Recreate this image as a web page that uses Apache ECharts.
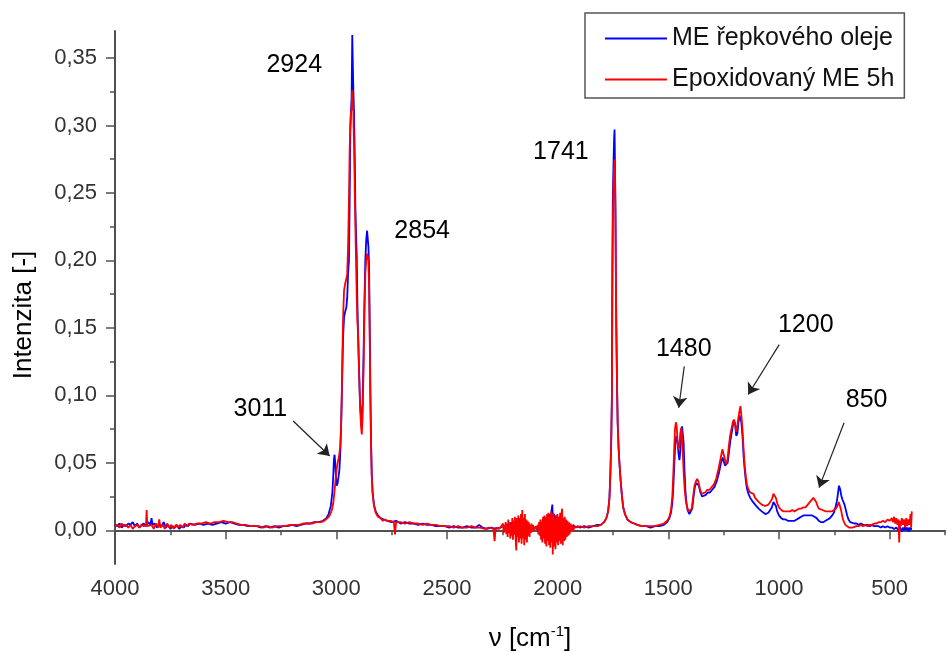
<!DOCTYPE html>
<html>
<head>
<meta charset="utf-8">
<script src="https://cdn.jsdelivr.net/npm/echarts@6/dist/echarts.min.js"></script>
<style>html,body{margin:0;padding:0;background:#fff}#chart{width:948px;height:652px}</style>
</head>
<body>
<div id="chart"></div>
<script>
// ---------- data (wavenumber [cm-1], intensity [-]) ----------
const seriesNames = ['ME řepkového oleje', 'Epoxidovaný ME 5h'];

const meData = [
[4000,0.004],[3990,0.003],[3980,0.005],[3970,0.002],[3960,0.004],[3950,0.003],[3940,0.005],[3930,0.004],[3920,0.006],[3910,0.003],
[3900,0.005],[3890,0.002],[3880,0.004],[3870,0.005],[3860,0.003],[3850,0.006],[3840,0.004],[3835,0.009],[3830,0.004],[3820,0.005],
[3810,0.002],[3800,0.004],[3790,0.003],[3780,0.006],[3770,0.002],[3760,0.004],[3750,0.001],[3740,0.003],[3730,0.002],[3720,0.004],
[3710,0.001],[3700,0.003],[3690,0.002],[3680,0.004],[3670,0.003],[3660,0.005],[3640,0.004],[3620,0.005],[3600,0.004],[3580,0.005],
[3560,0.004],[3540,0.005],[3520,0.006],[3500,0.005],[3480,0.006],[3460,0.005],[3440,0.004],[3420,0.004],[3400,0.003],[3380,0.003],
[3360,0.003],[3340,0.002],[3320,0.003],[3300,0.002],[3280,0.003],[3260,0.002],[3240,0.003],[3220,0.003],[3200,0.004],[3180,0.003],
[3160,0.004],[3140,0.005],[3120,0.005],[3100,0.006],[3080,0.006],[3060,0.007],[3045,0.009],[3035,0.012],[3025,0.018],[3018,0.028],
[3014,0.04],[3011,0.052],[3008,0.056],[3005,0.05],[3002,0.04],[2998,0.033],[2994,0.035],[2990,0.04],[2986,0.045],[2982,0.058],
[2978,0.08],[2975,0.1],[2972,0.125],[2969,0.145],[2965,0.158],[2960,0.162],[2955,0.165],[2951,0.172],[2947,0.19],[2943,0.2],
[2940,0.24],[2937,0.295],[2934,0.31],[2931,0.32],[2928,0.367],[2926,0.35],[2923,0.325],[2920,0.31],[2917,0.28],[2914,0.24],
[2911,0.22],[2908,0.205],[2905,0.17],[2901,0.14],[2897,0.115],[2893,0.095],[2889,0.085],[2885,0.082],[2881,0.095],[2877,0.13],
[2873,0.17],[2869,0.2],[2865,0.215],[2861,0.222],[2858,0.223],[2855,0.21],[2852,0.195],[2849,0.15],[2846,0.1],[2843,0.065],
[2840,0.042],[2836,0.028],[2830,0.019],[2822,0.014],[2812,0.011],[2800,0.009],[2785,0.008],[2770,0.007],[2750,0.006],[2730,0.007],
[2710,0.005],[2690,0.006],[2670,0.005],[2650,0.005],[2630,0.004],[2610,0.005],[2590,0.004],[2570,0.004],[2550,0.003],[2530,0.003],
[2510,0.003],[2490,0.002],[2470,0.003],[2450,0.002],[2430,0.002],[2410,0.003],[2390,0.002],[2370,0.002],[2355,0.004],[2340,0.002],
[2320,0.001],[2300,0.002],[2280,0.001],[2260,0.002],[2245,0.003],
[2235,0.001],[2230,0.004],[2225,-0.001],[2220,0.005],[2215,0.0],[2210,0.006],[2205,-0.002],[2200,0.007],[2195,-0.003],[2190,0.006],
[2185,-0.004],[2180,0.008],[2175,-0.003],[2170,0.009],[2165,-0.004],[2160,0.01],[2155,-0.002],[2150,0.008],[2145,-0.003],[2140,0.006],
[2135,-0.001],[2130,0.004],[2125,0.0],[2120,0.003],[2115,0.001],[2110,0.002],[2100,0.002],[2092,0.003],
[2088,0.0],[2084,0.005],[2080,-0.003],[2076,0.006],[2072,-0.004],[2068,0.008],[2064,-0.005],[2060,0.009],[2056,-0.006],[2052,0.01],
[2048,-0.005],[2044,0.011],[2040,-0.007],[2036,0.012],[2032,-0.006],[2028,0.014],[2024,0.019],[2020,-0.008],[2016,0.012],[2012,-0.006],
[2008,0.011],[2004,-0.005],[2000,0.009],[1996,-0.006],[1992,0.01],[1988,-0.004],[1984,0.008],[1980,-0.005],[1976,0.009],[1972,-0.003],
[1968,0.007],[1964,-0.002],[1960,0.006],[1955,-0.002],[1950,0.005],[1945,0.0],[1940,0.004],[1935,0.001],[1930,0.004],[1920,0.002],
[1910,0.003],[1900,0.002],[1880,0.003],[1860,0.002],[1840,0.003],[1820,0.004],[1805,0.004],
[1790,0.006],[1780,0.009],[1772,0.014],[1766,0.024],[1762,0.042],[1758,0.068],[1755,0.1],[1753,0.19],[1751,0.243],[1748,0.27],
[1745,0.29],[1743,0.297],[1741,0.27],[1739,0.24],[1737,0.188],[1735,0.15],[1732,0.11],[1729,0.08],[1725,0.062],[1721,0.05],
[1716,0.038],[1710,0.026],[1704,0.017],[1696,0.012],[1685,0.008],[1670,0.006],[1655,0.005],[1640,0.004],[1620,0.003],[1600,0.003],
[1580,0.002],[1560,0.003],[1540,0.003],[1520,0.004],[1505,0.006],[1495,0.009],[1488,0.013],[1482,0.02],
[1478,0.03],[1474,0.045],[1470,0.06],[1466,0.068],[1462,0.07],[1458,0.065],[1454,0.057],[1450,0.052],[1446,0.058],[1442,0.07],
[1438,0.077],[1435,0.078],[1431,0.065],[1427,0.045],[1423,0.03],[1418,0.02],[1413,0.015],[1405,0.012],[1398,0.012],[1392,0.016],
[1386,0.025],[1380,0.032],[1374,0.035],[1368,0.036],[1362,0.033],[1355,0.028],[1348,0.025],[1340,0.024],[1332,0.026],[1322,0.028],
[1312,0.028],[1302,0.03],[1292,0.032],[1282,0.036],[1272,0.042],[1262,0.05],[1255,0.054],[1250,0.053],[1244,0.048],[1238,0.047],
[1232,0.05],[1226,0.058],[1220,0.066],[1214,0.072],[1208,0.078],[1203,0.08],[1198,0.078],[1193,0.07],[1188,0.072],[1183,0.08],
[1178,0.085],[1174,0.086],[1170,0.08],[1165,0.07],[1160,0.055],[1155,0.045],[1150,0.037],[1145,0.031],[1138,0.027],[1130,0.024],
[1122,0.022],[1115,0.022],[1108,0.019],[1100,0.019],[1092,0.016],[1085,0.016],[1078,0.014],[1070,0.013],[1062,0.012],[1055,0.012],
[1048,0.013],[1040,0.014],[1032,0.017],[1025,0.021],[1020,0.021],[1014,0.018],[1008,0.014],[1000,0.011],[990,0.009],[980,0.008],
[970,0.008],[960,0.007],[950,0.007],[940,0.007],[930,0.007],[920,0.008],[910,0.009],[900,0.01],[890,0.011],[880,0.011],
[870,0.011],[860,0.011],[850,0.011],[840,0.01],[830,0.009],[820,0.007],[810,0.006],[800,0.006],[790,0.007],[780,0.008],
[770,0.009],[760,0.011],[752,0.013],[745,0.017],[738,0.022],[733,0.028],[729,0.033],[726,0.034],[723,0.03],[719,0.026],
[714,0.023],[709,0.021],[704,0.019],[698,0.015],[692,0.011],[686,0.008],[678,0.006],[670,0.006],[660,0.005],[650,0.005],
[640,0.004],[630,0.005],[620,0.004],[610,0.004],[600,0.004],[590,0.003],[580,0.004],[570,0.003],[560,0.003],[550,0.003],
[540,0.002],[530,0.003],[520,0.002],[510,0.003],[500,0.002],[490,0.002],[480,0.001],[470,0.002],[460,0.0],[455,0.003],
[450,0.001],[445,-0.001],[440,0.002],[435,0.0],[430,0.003],[425,0.0],[420,0.002],[415,-0.001],[410,0.002],[405,0.0],[402,0.002]
];

const epoxData = [
[4000,0.003],[3990,0.004],[3980,0.002],[3970,0.005],[3960,0.003],[3950,0.004],[3940,0.002],[3930,0.004],[3920,0.001],[3910,0.003],
[3900,0.004],[3890,0.002],[3880,0.004],[3870,0.003],[3860,0.004],[3857,0.015],[3854,0.003],[3845,0.002],[3835,0.004],[3825,0.001],
[3815,0.005],[3805,0.002],[3800,0.008],[3795,0.002],[3785,0.004],[3775,0.001],[3765,0.005],[3755,0.002],[3745,0.004],[3735,0.001],
[3725,0.004],[3715,0.002],[3705,0.004],[3695,0.002],[3685,0.005],[3675,0.003],[3665,0.005],[3650,0.004],[3630,0.005],[3610,0.005],
[3590,0.006],[3570,0.005],[3550,0.006],[3530,0.006],[3510,0.007],[3490,0.006],[3470,0.006],[3450,0.005],[3430,0.004],[3410,0.004],
[3390,0.003],[3370,0.003],[3350,0.003],[3330,0.002],[3310,0.003],[3290,0.002],[3270,0.003],[3250,0.003],[3230,0.003],[3210,0.004],
[3190,0.004],[3170,0.004],[3150,0.005],[3130,0.005],[3110,0.005],[3090,0.006],[3070,0.006],[3055,0.007],[3040,0.009],[3030,0.011],
[3020,0.015],[3014,0.02],[3010,0.026],[3006,0.033],[3002,0.04],[2998,0.046],[2994,0.05],[2990,0.053],[2986,0.057],[2982,0.063],
[2978,0.08],[2975,0.105],[2972,0.135],[2969,0.16],[2965,0.178],[2960,0.183],[2955,0.186],[2951,0.19],[2947,0.21],[2943,0.245],
[2940,0.28],[2937,0.3],[2934,0.31],[2931,0.312],[2928,0.326],[2926,0.32],[2923,0.31],[2920,0.285],[2917,0.255],[2914,0.225],
[2911,0.2],[2908,0.175],[2905,0.155],[2901,0.143],[2897,0.118],[2893,0.093],[2889,0.078],[2885,0.071],[2881,0.085],[2877,0.12],
[2873,0.16],[2869,0.19],[2865,0.2],[2861,0.205],[2858,0.206],[2855,0.2],[2852,0.18],[2849,0.14],[2846,0.095],[2843,0.062],
[2840,0.04],[2836,0.027],[2830,0.018],[2822,0.013],[2812,0.01],[2800,0.009],[2790,0.007],[2780,0.008],[2770,0.007],[2755,0.007],
[2740,0.006],[2735,-0.003],[2730,0.006],[2710,0.006],[2690,0.005],[2670,0.006],[2650,0.005],[2630,0.005],[2610,0.004],[2590,0.005],
[2570,0.004],[2550,0.004],[2530,0.003],[2510,0.003],[2490,0.003],[2470,0.002],[2450,0.003],[2430,0.002],[2410,0.002],[2390,0.003],
[2370,0.002],[2350,0.002],[2330,0.001],[2310,0.002],[2290,0.001],[2285,-0.008],[2280,0.002],[2265,0.001],[2254,0.003],
[2250,0.002],[2247,0.005],[2244,-0.002],[2241,0.004],[2238,-0.001],[2235,0.006],[2232,-0.003],[2229,0.005],[2226,-0.005],[2223,0.008],
[2220,-0.002],[2217,0.006],[2214,-0.006],[2211,0.004],[2208,-0.004],[2205,0.009],[2202,-0.007],[2199,0.007],[2196,-0.003],[2193,0.01],
[2190,-0.006],[2187,-0.015],[2184,0.009],[2181,-0.005],[2178,0.011],[2175,-0.009],[2172,0.006],[2169,-0.006],[2166,0.012],[2163,-0.01],
[2160,0.015],[2157,-0.006],[2154,0.009],[2151,-0.011],[2148,0.012],[2145,-0.007],[2142,0.008],[2139,-0.009],[2136,0.007],[2133,-0.004],
[2130,0.006],[2127,-0.005],[2124,0.004],[2121,-0.002],[2118,0.005],[2115,-0.001],[2112,0.004],[2106,0.0],[2100,0.003],[2094,0.001],
[2090,0.004],[2087,-0.003],[2084,0.006],[2081,-0.004],[2078,0.008],[2075,-0.007],[2072,0.005],[2069,-0.009],[2066,0.01],[2063,-0.006],
[2060,0.011],[2057,-0.01],[2054,0.008],[2051,-0.012],[2048,0.012],[2045,-0.008],[2042,0.013],[2039,-0.011],[2036,0.01],[2033,-0.013],
[2030,0.014],[2027,-0.009],[2024,0.012],[2022,-0.018],[2019,0.013],[2016,-0.012],[2013,0.009],[2010,-0.014],[2007,0.011],[2004,-0.009],
[2001,0.012],[1998,-0.011],[1995,0.01],[1992,-0.008],[1989,0.013],[1986,-0.01],[1983,0.011],[1980,0.016],[1977,-0.011],[1974,0.009],
[1971,-0.008],[1968,0.01],[1965,-0.007],[1962,0.008],[1959,-0.005],[1956,0.007],[1953,-0.004],[1950,0.006],[1946,-0.003],[1942,0.005],
[1938,-0.001],[1934,0.004],[1930,0.0],[1922,0.003],[1912,0.002],[1900,0.003],[1880,0.002],[1860,0.003],[1840,0.003],[1820,0.003],[1805,0.004],
[1790,0.006],[1780,0.009],[1772,0.014],[1766,0.024],[1762,0.04],[1758,0.065],[1755,0.095],[1753,0.17],[1751,0.22],[1748,0.255],
[1745,0.268],[1743,0.275],[1741,0.265],[1739,0.235],[1737,0.19],[1735,0.15],[1732,0.11],[1729,0.08],[1725,0.062],[1721,0.05],
[1716,0.038],[1710,0.026],[1704,0.017],[1696,0.012],[1685,0.008],[1670,0.006],[1655,0.005],[1640,0.004],[1620,0.003],[1600,0.003],
[1580,0.003],[1560,0.003],[1540,0.004],[1520,0.005],[1505,0.007],[1495,0.01],[1488,0.015],[1482,0.025],
[1478,0.04],[1474,0.058],[1470,0.075],[1466,0.08],[1462,0.077],[1458,0.065],[1454,0.06],[1450,0.062],[1446,0.072],[1442,0.076],
[1438,0.07],[1434,0.055],[1430,0.04],[1426,0.03],[1421,0.022],[1415,0.017],[1408,0.014],[1400,0.013],[1394,0.016],[1388,0.025],
[1382,0.033],[1376,0.036],[1370,0.038],[1364,0.036],[1358,0.031],[1350,0.027],[1342,0.026],[1334,0.028],[1324,0.03],[1314,0.03],
[1304,0.032],[1294,0.034],[1284,0.038],[1274,0.045],[1264,0.053],[1256,0.06],[1251,0.06],[1245,0.053],[1239,0.049],[1233,0.052],
[1227,0.062],[1221,0.07],[1215,0.075],[1209,0.08],[1204,0.082],[1199,0.08],[1194,0.073],[1189,0.076],[1184,0.083],[1179,0.088],
[1174,0.092],[1170,0.085],[1165,0.075],[1160,0.06],[1155,0.048],[1150,0.04],[1145,0.034],[1138,0.03],[1130,0.028],[1122,0.029],
[1115,0.027],[1108,0.024],[1100,0.023],[1092,0.021],[1085,0.02],[1078,0.019],[1070,0.018],[1062,0.018],[1055,0.018],[1048,0.019],
[1040,0.02],[1032,0.023],[1025,0.027],[1020,0.027],[1014,0.024],[1008,0.02],[1000,0.017],[990,0.015],[980,0.014],[970,0.014],
[960,0.014],[950,0.014],[940,0.015],[930,0.014],[920,0.015],[910,0.016],[900,0.016],[890,0.017],[880,0.017],[870,0.019],
[860,0.021],[852,0.022],[845,0.024],[838,0.024],[832,0.021],[826,0.018],[820,0.016],[812,0.015],[804,0.015],[796,0.014],
[788,0.014],[780,0.014],[770,0.014],[760,0.014],[752,0.015],[744,0.016],[736,0.018],[730,0.021],[726,0.02],[721,0.016],
[716,0.012],[711,0.008],[706,0.006],[700,0.004],[692,0.003],[684,0.002],[676,0.003],[668,0.002],[660,0.003],[650,0.003],
[640,0.003],[630,0.004],[620,0.003],[610,0.004],[600,0.003],[590,0.004],[580,0.004],[570,0.005],[560,0.005],[550,0.006],
[540,0.006],[530,0.007],[520,0.006],[510,0.008],[500,0.007],[490,0.009],[485,0.006],[480,0.01],[475,0.005],[470,0.009],
[465,0.004],[460,0.008],[457,-0.009],[454,0.007],[450,0.003],[445,0.009],[440,0.004],[435,0.008],[430,0.002],[425,0.009],
[420,0.003],[415,0.008],[410,0.004],[406,0.012],[403,0.002],[400,0.014]
];

// ---------- axes / ticks ----------
const xRange = [250, 4000];
const xTickLabels = [4000, 3500, 3000, 2500, 2000, 1500, 1000, 500];
const xMinorTicks = [3750, 3250, 2750, 2250, 1750, 1250, 750, 250];
const yRange = [-0.025, 0.37];
const yTickLabels = [0, 0.05, 0.10, 0.15, 0.20, 0.25, 0.30, 0.35];
const yMinorTicks = [0.025, 0.075, 0.125, 0.175, 0.225, 0.275, 0.325];

// ---------- annotations ----------
const annotationTexts = ['2924', '2854', '1741', '3011', '1480', '1200', '850'];
const annotationX = [3188, 2610, 1983, 3341, 1428, 877, 602];
const annotationY = [0.344, 0.221, 0.280, 0.0895, 0.134, 0.152, 0.096];
const arrowStarts = [[3195, 0.081], [1428, 0.1215], [999, 0.1376], [706, 0.0797]];
const arrowEnds = [[3030, 0.055], [1453, 0.0908], [1139, 0.1006], [819, 0.0316]];

const FONT = '"Liberation Sans", Arial, sans-serif';
const AXIS_COLOR = '#505050';

const chart = echarts.init(document.getElementById('chart'), null, {renderer: 'canvas'});

const annotationData = annotationTexts.map((t, i) => ({value: [annotationX[i], annotationY[i]], name: t}));
const arrowData = arrowStarts.map((s, i) => [{coord: s}, {coord: arrowEnds[i]}]);

const commonX = {
  type: 'value', min: xRange[0], max: xRange[1], inverse: true,
  splitLine: {show: false}, gridIndex: 0
};
const commonY = {
  type: 'value', min: yRange[0], max: yRange[1],
  splitLine: {show: false}, gridIndex: 0
};

chart.setOption({
  animation: false,
  backgroundColor: '#ffffff',
  grid: {left: 115, right: 3, top: 31, bottom: 88, containLabel: false, outerBoundsMode: 'none'},
  legend: {
    data: seriesNames,
    orient: 'vertical',
    left: 585, top: 13,
    padding: [12, 10, 5, 20],
    icon: 'rect',
    itemWidth: 62, itemHeight: 2, itemGap: 14,
    borderColor: '#555', borderWidth: 1.5,
    textStyle: {fontFamily: FONT, fontSize: 25, color: '#111', lineHeight: 27},
    selectedMode: false
  },
  xAxis: [
    Object.assign({}, commonX, {
      position: 'bottom',
      axisLine: {show: true, lineStyle: {color: AXIS_COLOR, width: 2}},
      axisTick: {show: true, customValues: xTickLabels, length: 9, lineStyle: {color: AXIS_COLOR, width: 1.5}},
      axisLabel: {show: true, customValues: xTickLabels, margin: 14, color: '#333', fontFamily: FONT, fontSize: 22,
                  formatter: v => String(v)},
      name: '{a|ν [cm}{s|-1}{a|]}',
      nameLocation: 'middle', nameGap: 60,
      nameTextStyle: {
        rich: {
          a: {fontFamily: FONT, fontSize: 26, color: '#000', lineHeight: 30},
          s: {fontFamily: FONT, fontSize: 15, color: '#000', lineHeight: 16, verticalAlign: 'top'}
        }
      }
    }),
    Object.assign({}, commonX, {
      position: 'bottom',
      axisLine: {show: false},
      axisTick: {show: true, customValues: xMinorTicks, length: 5, lineStyle: {color: AXIS_COLOR, width: 1.5}},
      axisLabel: {show: false}
    })
  ],
  yAxis: [
    Object.assign({}, commonY, {
      position: 'left',
      axisLine: {show: true, lineStyle: {color: AXIS_COLOR, width: 2}},
      axisTick: {show: true, customValues: yTickLabels, length: 9, lineStyle: {color: AXIS_COLOR, width: 1.5}},
      axisLabel: {show: true, customValues: yTickLabels, margin: 18, color: '#333', fontFamily: FONT, fontSize: 22,
                  formatter: v => v.toFixed(2).replace('.', ',')}
    }),
    Object.assign({}, commonY, {
      position: 'left',
      axisLine: {show: false},
      axisTick: {show: true, customValues: yMinorTicks, length: 5, lineStyle: {color: AXIS_COLOR, width: 1.5}},
      axisLabel: {show: false}
    })
  ],
  graphic: [{
    type: 'text',
    x: 24, y: 315, rotation: Math.PI / 2,
    style: {text: 'Intenzita [-]', fontFamily: FONT, fontSize: 26, fill: '#000', align: 'center', verticalAlign: 'middle'}
  }],
  series: [
    {
      name: seriesNames[0], type: 'line', xAxisIndex: 0, yAxisIndex: 0,
      data: meData, symbol: 'none', showSymbol: false,
      lineStyle: {color: '#0000ff', width: 1.8}, itemStyle: {color: '#0000ff'},
      z: 2, silent: true
    },
    {
      name: seriesNames[1], type: 'line', xAxisIndex: 0, yAxisIndex: 0,
      data: epoxData, symbol: 'none', showSymbol: false,
      lineStyle: {color: '#ff0000', width: 1.8}, itemStyle: {color: '#ff0000'},
      z: 3, silent: true
    },
    {
      name: 'annotations', type: 'scatter', xAxisIndex: 0, yAxisIndex: 0,
      data: annotationData, symbol: 'circle', symbolSize: 1,
      itemStyle: {color: '#ffffff', opacity: 1},
      label: {show: true, position: [0, 0], align: 'center', verticalAlign: 'middle',
              formatter: p => p.name,
              fontFamily: FONT, fontSize: 25, color: '#000', opacity: 1, textBorderWidth: 0},
      markLine: {
        silent: true, symbol: ['none', 'arrow'], symbolSize: 11,
        label: {show: false},
        lineStyle: {color: '#222', width: 1.2, type: 'solid', opacity: 1},
        data: arrowData
      },
      z: 5, silent: true
    }
  ]
});
</script>
</body>
</html>
